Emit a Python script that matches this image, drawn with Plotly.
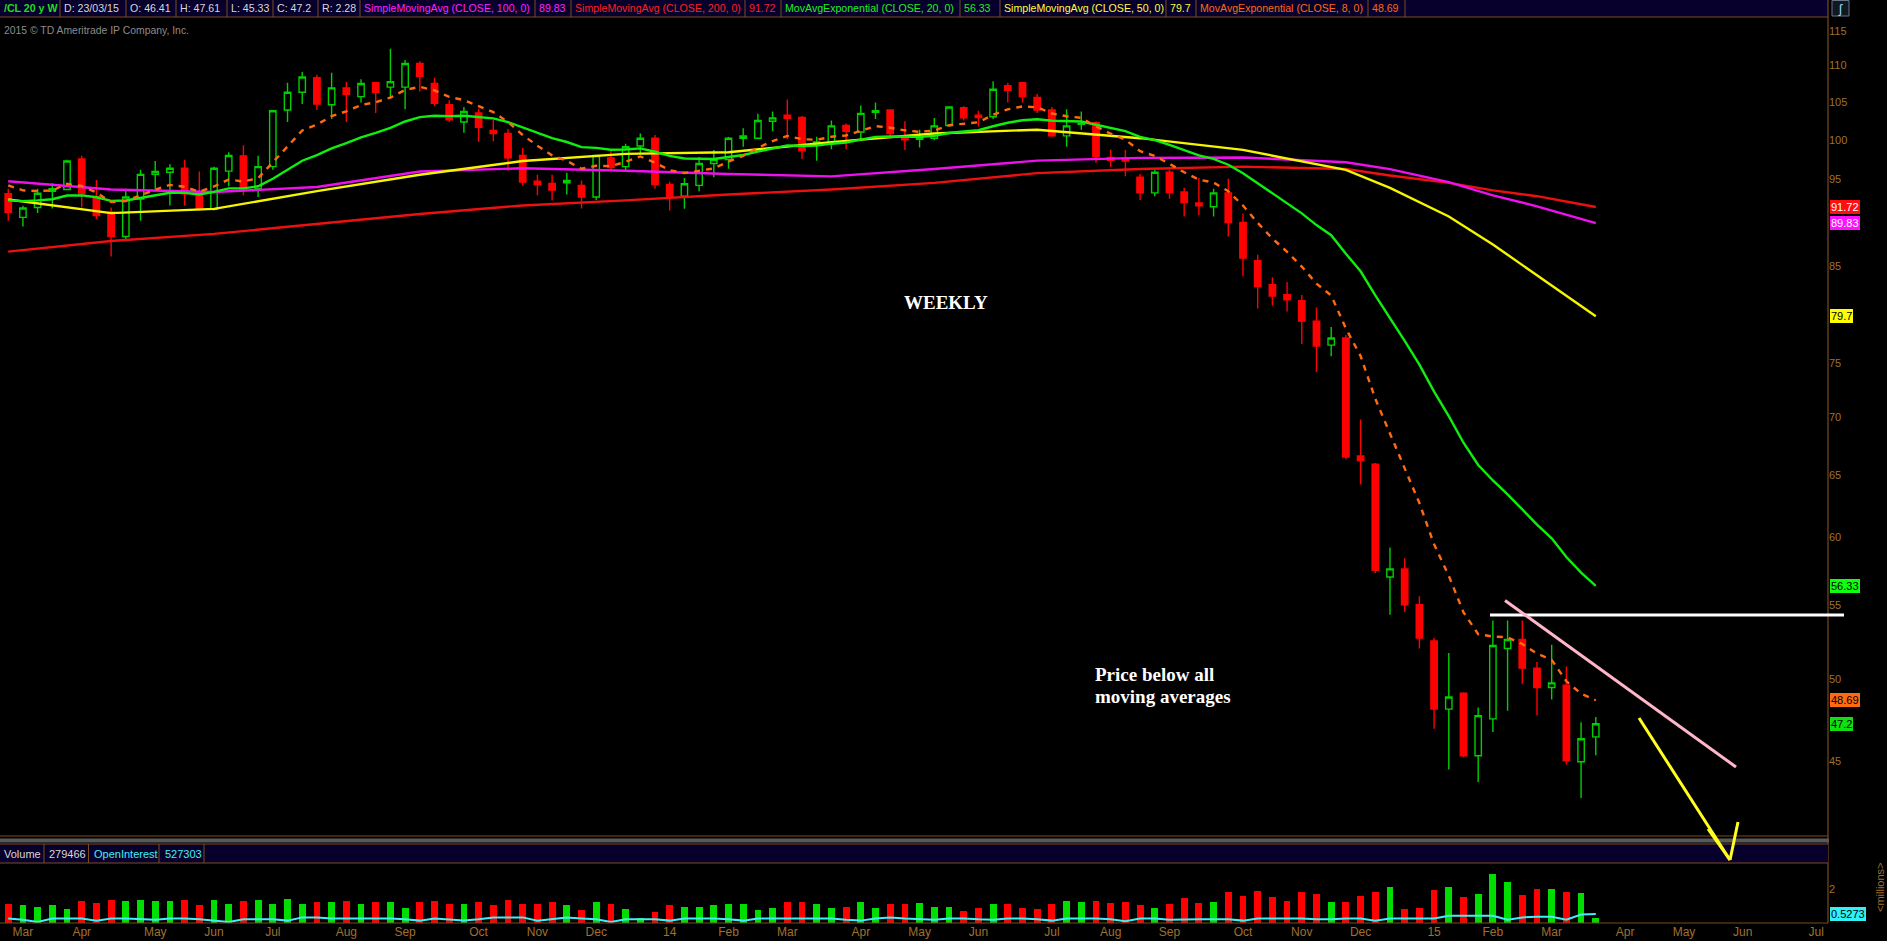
import math
import pandas as pd
import plotly.graph_objects as go

W, H = 1887, 941

# ---------------- data (weekly /CL candles) ----------------
dates = pd.date_range("2013-02-25", periods=109, freq="W-MON")

opens = [93.3, 90.5, 91.65, 93.6, 93.8, 97.55, 92.95, 91.1, 88.3, 92.65,
         95.65, 95.9, 96.4, 93.5, 91.45, 96.05, 97.95, 93.9, 96.6, 103.9,
         106.3, 108.3, 104.6, 106.9, 105.7, 107.6, 107.0, 107.0, 110.3, 107.5,
         104.6, 102.3, 103.5, 101.2, 100.8, 98.0, 94.8, 94.55, 94.6, 94.3,
         92.9, 97.7, 96.6, 99.2, 100.2, 94.4, 93.0, 94.3, 97.0, 97.5,
         100.2, 100.2, 102.4, 103.2, 102.9, 99.4, 99.5, 101.85, 101.0, 103.6,
         103.9, 100.3, 100.05, 100.2, 101.85, 104.2, 103.2, 103.0, 107.2, 107.6,
         105.6, 103.9, 100.5, 102.0, 102.2, 97.75, 97.7, 95.3, 93.4, 95.9,
         93.5, 92.2, 91.75, 93.4, 89.9, 85.6, 83.0, 81.95, 81.3, 79.2,
         76.8, 77.5, 66.6, 65.9, 57.0, 57.6, 55.0, 52.5, 48.1, 49.1,
         45.3, 47.5, 52.0, 52.6, 50.7, 49.45, 49.6, 44.95, 46.41]
highs = [93.9, 91.85, 93.9, 94.55, 97.45, 97.95, 94.95, 91.65, 93.9, 96.2,
         97.3, 96.9, 97.45, 96.0, 96.6, 98.4, 99.3, 97.95, 103.9, 107.6,
         109.1, 108.7, 109.0, 107.75, 108.1, 107.7, 112.4, 110.8, 110.6, 108.3,
         105.2, 104.3, 104.1, 102.6, 101.4, 98.95, 95.6, 95.6, 95.85, 94.9,
         98.1, 98.7, 99.5, 100.8, 100.6, 94.75, 95.2, 97.8, 98.7, 100.35,
         101.5, 103.4, 103.7, 105.3, 103.1, 100.4, 102.5, 102.1, 104.5, 104.9,
         104.0, 102.4, 101.3, 102.85, 104.4, 104.4, 103.8, 107.8, 107.6, 107.7,
         106.1, 104.3, 104.0, 103.7, 102.4, 98.75, 98.7, 95.7, 96.2, 96.2,
         94.0, 95.2, 93.9, 95.1, 90.95, 86.25, 83.8, 83.3, 81.9, 80.6,
         78.6, 77.8, 69.8, 66.0, 59.2, 58.4, 55.6, 52.7, 51.7, 49.15,
         48.2, 53.9, 53.9, 53.9, 51.1, 52.25, 50.8, 47.3, 47.61]
lows = [90.1, 89.45, 91.0, 91.55, 93.7, 91.65, 90.3, 86.05, 87.9, 90.1,
        93.9, 91.9, 91.85, 91.3, 91.3, 94.2, 93.1, 92.9, 96.2, 102.3,
        104.7, 103.9, 102.7, 102.3, 104.9, 103.5, 105.5, 104.0, 106.4, 104.4,
        102.3, 100.9, 99.7, 99.8, 96.1, 94.3, 93.1, 92.5, 93.2, 91.55,
        92.55, 96.2, 96.05, 98.3, 93.9, 91.3, 91.5, 93.6, 95.3, 96.35,
        99.1, 100.1, 101.1, 100.1, 97.55, 97.35, 98.8, 98.8, 99.8, 102.7,
        100.4, 98.7, 99.0, 99.95, 101.7, 102.5, 101.7, 102.7, 104.9, 104.9,
        103.5, 100.4, 99.1, 101.3, 97.1, 96.6, 95.4, 92.55, 93.0, 92.7,
        90.6, 90.75, 90.6, 88.3, 83.9, 80.5, 80.8, 80.2, 76.9, 74.2,
        75.7, 66.3, 64.2, 57.3, 54.3, 54.5, 52.0, 46.9, 44.5, 45.2,
        43.8, 46.7, 48.0, 49.7, 47.7, 48.7, 44.8, 42.9, 45.33]
closes = [91.1, 91.6, 93.35, 93.9, 97.3, 93.3, 90.7, 88.3, 92.9, 95.65,
          96.0, 96.4, 93.3, 91.45, 96.4, 98.0, 93.9, 96.6, 103.8, 106.3,
          108.4, 104.7, 106.9, 106.0, 107.5, 106.3, 107.75, 110.3, 108.5, 104.8,
          102.6, 103.7, 101.6, 100.8, 97.7, 94.7, 94.4, 93.75, 94.9, 92.9,
          98.0, 96.5, 99.1, 100.2, 94.4, 92.9, 94.5, 97.0, 97.5, 100.2,
          100.5, 102.5, 102.85, 102.8, 98.6, 99.7, 101.8, 101.1, 103.45, 103.8,
          100.8, 100.0, 100.35, 101.8, 104.3, 102.85, 102.9, 106.7, 106.55, 105.7,
          103.9, 100.5, 101.8, 102.1, 97.85, 97.4, 97.3, 93.4, 95.9, 93.45,
          92.25, 91.85, 93.4, 89.9, 85.9, 82.8, 81.8, 81.4, 79.2, 76.7,
          77.5, 66.5, 66.2, 57.5, 57.6, 55.0, 52.7, 48.1, 48.85, 45.3,
          47.7, 52.2, 52.6, 50.7, 49.45, 49.75, 45.0, 46.3, 47.2]

volume_m = [1.09, 1.03, 0.97, 1.03, 0.80, 1.27, 1.16, 1.37, 1.27, 1.37,
            1.31, 1.27, 1.37, 1.03, 1.37, 1.09, 1.31, 1.37, 1.09, 1.43,
            1.14, 1.22, 1.22, 1.31, 1.14, 1.26, 1.26, 0.91, 1.26, 1.31,
            1.09, 1.09, 1.26, 1.03, 1.37, 1.14, 1.09, 1.26, 1.03, 0.74,
            1.26, 1.09, 0.80, 0.29, 0.63, 1.03, 0.97, 0.97, 1.03, 1.14,
            1.09, 0.74, 0.86, 1.26, 1.26, 1.09, 0.91, 0.97, 1.26, 0.86,
            1.14, 1.14, 1.20, 0.97, 0.97, 0.69, 0.86, 1.14, 1.14, 0.86,
            0.80, 1.09, 1.31, 1.26, 1.31, 1.20, 1.26, 1.03, 0.91, 1.09,
            1.49, 1.20, 1.26, 1.83, 1.60, 1.89, 1.54, 1.31, 1.83, 1.71,
            1.26, 1.26, 1.60, 1.83, 2.11, 0.80, 0.91, 1.94, 2.11, 1.54,
            1.73, 2.86, 2.40, 1.66, 2.00, 2.00, 1.83, 1.77, 0.2795]

open_interest_m = [0.27, 0.19, 0.06, 0.27, 0.27, 0.27, 0.14, 0.27, 0.27, 0.22,
                   0.19, 0.27, 0.27, 0.22, 0.14, 0.06, 0.22, 0.22, 0.22, 0.14,
                   0.33, 0.33, 0.27, 0.27, 0.27, 0.27, 0.27, 0.22, 0.14, 0.27,
                   0.22, 0.14, 0.22, 0.33, 0.33, 0.33, 0.14, 0.22, 0.33, 0.27,
                   0.22, 0.06, 0.22, 0.22, 0.22, 0.14, 0.27, 0.27, 0.27, 0.22,
                   0.14, 0.27, 0.27, 0.27, 0.27, 0.27, 0.27, 0.19, 0.14, 0.27,
                   0.33, 0.27, 0.22, 0.19, 0.27, 0.27, 0.22, 0.19, 0.27, 0.27,
                   0.22, 0.14, 0.27, 0.27, 0.27, 0.22, 0.10, 0.27, 0.27, 0.19,
                   0.22, 0.22, 0.22, 0.22, 0.14, 0.27, 0.27, 0.27, 0.27, 0.22,
                   0.22, 0.27, 0.27, 0.14, 0.27, 0.27, 0.27, 0.27, 0.43, 0.43,
                   0.43, 0.43, 0.19, 0.33, 0.37, 0.37, 0.19, 0.50, 0.5273]

# moving averages at these candle numbers
ma_candles = [1, 8, 15, 22, 29, 36, 43, 50, 57, 64, 71, 78, 85, 92, 95, 99, 102, 105, 109]
sma50 = [92.6, 91.0, 91.5, 93.6, 95.6, 97.3, 98.2, 98.4, 99.7, 100.8,
         101.3, 100.2, 98.7, 96.2, 94.0, 90.6, 87.4, 84.0, 79.7]
sma100 = [94.8, 93.8, 93.5, 94.1, 96.0, 96.4, 96.1, 95.7, 95.4, 96.3,
          97.35, 97.7, 97.75, 97.15, 96.3, 94.7, 93.1, 91.8, 89.83]
sma200 = [86.6, 87.8, 88.6, 89.7, 90.9, 91.9, 92.5, 93.2, 93.8, 94.6,
          95.8, 96.3, 96.6, 96.3, 95.5, 94.6, 93.7, 93.0, 91.72]
ema8_start = 94.3
ema20_start = 92.5

price_ticks = [45, 50, 55, 60, 65, 70, 75, 85, 95, 100, 105, 110, 115]
month_ticks = ["2013-03-04", "2013-04-01", "2013-05-06", "2013-06-03", "2013-07-01",
               "2013-08-05", "2013-09-02", "2013-10-07", "2013-11-04", "2013-12-02",
               "2014-01-06", "2014-02-03", "2014-03-03", "2014-04-07", "2014-05-05",
               "2014-06-02", "2014-07-07", "2014-08-04", "2014-09-01", "2014-10-06",
               "2014-11-03", "2014-12-01", "2015-01-05", "2015-02-02", "2015-03-02",
               "2015-04-06", "2015-05-04", "2015-06-01", "2015-07-06"]
month_labels = ["Mar", "Apr", "May", "Jun", "Jul", "Aug", "Sep", "Oct", "Nov", "Dec",
                "14", "Feb", "Mar", "Apr", "May", "Jun", "Jul", "Aug", "Sep", "Oct",
                "Nov", "Dec", "15", "Feb", "Mar", "Apr", "May", "Jun", "Jul"]

header_cells = [
    ("<b>/CL 20 y W</b>", "#22dd22", 0),
    ("D: 23/03/15", "#d8d8d8", 60),
    ("O: 46.41", "#d8d8d8", 126),
    ("H: 47.61", "#d8d8d8", 176),
    ("L: 45.33", "#d8d8d8", 227),
    ("C: 47.2", "#d8d8d8", 273),
    ("R: 2.28", "#d8d8d8", 318),
    ("SimpleMovingAvg (CLOSE, 100, 0)", "#ff22ff", 360),
    ("89.83", "#ff22ff", 535),
    ("SimpleMovingAvg (CLOSE, 200, 0)", "#ff2020", 571),
    ("91.72", "#ff2020", 745),
    ("MovAvgExponential (CLOSE, 20, 0)", "#22ee22", 781),
    ("56.33", "#22ee22", 960),
    ("SimpleMovingAvg (CLOSE, 50, 0)", "#ffff33", 1000),
    ("79.7", "#ffff33", 1166),
    ("MovAvgExponential (CLOSE, 8, 0)", "#ff6a10", 1196),
    ("48.69", "#ff6a10", 1368),
]
header_seps = [60, 126, 176, 227, 273, 318, 360, 535, 571, 745, 781, 960, 1000, 1166, 1196, 1368, 1405]

# ---------------- derived ----------------
def ema(values, start, n):
    k = 2.0 / (n + 1)
    out = [start]
    for v in values[1:]:
        out.append(out[-1] + k * (v - out[-1]))
    return out

ema8 = ema(closes, ema8_start, 8)
ema20 = ema(closes, ema20_start, 20)
ma_dates = [dates[i - 1] for i in ma_candles]
up = [c >= o for o, c in zip(opens, closes)]
vol_colors = ["#00dd00" if u else "#ff0000" for u in up]

# ---------------- layout helpers (pixel -> paper) ----------------
def px(x):
    return x / W

def py(y):
    return 1 - y / H

AX_X = 1828
BROWN = "#7a4c1c"
BROWN_TXT = "#a0702e"
NAVY = "#07002c"
SANS = "Liberation Sans, Arial, sans-serif"

fig = go.Figure()

fig.add_trace(go.Candlestick(
    x=dates, open=opens, high=highs, low=lows, close=closes,
    increasing=dict(line=dict(color="#00d000", width=1.4), fillcolor="rgba(0,0,0,0)"),
    decreasing=dict(line=dict(color="#ff0000", width=1.4), fillcolor="#ff0000"),
    whiskerwidth=0, xaxis="x", yaxis="y", hoverinfo="skip", showlegend=False))

fig.add_trace(go.Scatter(x=ma_dates, y=sma200, mode="lines", line=dict(color="#ee1010", width=2.4),
                         xaxis="x", yaxis="y", hoverinfo="skip", showlegend=False))
fig.add_trace(go.Scatter(x=ma_dates, y=sma100, mode="lines", line=dict(color="#ee10ee", width=2.4),
                         xaxis="x", yaxis="y", hoverinfo="skip", showlegend=False))
fig.add_trace(go.Scatter(x=ma_dates, y=sma50, mode="lines", line=dict(color="#f5f500", width=2.4),
                         xaxis="x", yaxis="y", hoverinfo="skip", showlegend=False))
fig.add_trace(go.Scatter(x=dates, y=ema20, mode="lines", line=dict(color="#10ee10", width=2.4),
                         xaxis="x", yaxis="y", hoverinfo="skip", showlegend=False))
fig.add_trace(go.Scatter(x=dates, y=ema8, mode="lines",
                         line=dict(color="#ff6a10", width=2.4, dash="6px,6px"),
                         xaxis="x", yaxis="y", hoverinfo="skip", showlegend=False))

fig.add_trace(go.Bar(x=dates, y=volume_m, marker=dict(color=vol_colors, line=dict(width=0)),
                     width=2.8e8, xaxis="x2", yaxis="y2", hoverinfo="skip", showlegend=False))
fig.add_trace(go.Scatter(x=dates, y=open_interest_m, mode="lines",
                         line=dict(color="#40eef6", width=2),
                         xaxis="x2", yaxis="y2", hoverinfo="skip", showlegend=False))

x_range = ["2013-02-21 02:00", "2015-07-11 14:00"]
price_lo, price_hi = 40.86, 117.09

fig.update_layout(
    width=W, height=H, margin=dict(l=0, r=0, t=0, b=0),
    paper_bgcolor="#000000", plot_bgcolor="#000000",
    showlegend=False, bargap=0,
    boxgap=0.38,
    font=dict(family=SANS, color=BROWN_TXT, size=11),
    xaxis=dict(domain=[0, px(AX_X)], range=x_range, type="date", anchor="y",
               showticklabels=False, showgrid=False, zeroline=False, showline=False,
               rangeslider=dict(visible=False), fixedrange=True),
    yaxis=dict(domain=[py(836), py(17)], type="log",
               range=[math.log10(price_lo), math.log10(price_hi)], anchor="x",
               side="right", tickvals=price_ticks, ticktext=[str(t) for t in price_ticks],
               tickfont=dict(size=11, color=BROWN_TXT), ticks="", showgrid=False,
               zeroline=False, showline=False, fixedrange=True),
    xaxis2=dict(domain=[0, px(AX_X)], range=x_range, type="date", anchor="y2",
                tickvals=month_ticks, ticktext=month_labels, ticks="",
                tickfont=dict(size=12, color=BROWN_TXT), showgrid=False, zeroline=False,
                showline=False, fixedrange=True),
    yaxis2=dict(domain=[py(923), py(863)], range=[0, 3.53], anchor="x2", side="right",
                tickvals=[2], ticktext=["2"], ticks="", tickfont=dict(size=11, color=BROWN_TXT),
                showgrid=False, zeroline=False, showline=False, fixedrange=True),
)

shapes = []
def rect(x0, y0, x1, y1, fill, line_color=None, lw=0):
    shapes.append(dict(type="rect", xref="paper", yref="paper", x0=px(x0), x1=px(x1),
                       y0=py(y1), y1=py(y0), fillcolor=fill,
                       line=dict(color=line_color or fill, width=lw), layer="above"))

def seg(x0, y0, x1, y1, color, lw=1):
    shapes.append(dict(type="line", xref="paper", yref="paper", x0=px(x0), x1=px(x1),
                       y0=py(y0), y1=py(y1), line=dict(color=color, width=lw), layer="above"))

# header bar
rect(0, 0, AX_X, 17, NAVY)
seg(0, 17, AX_X, 17, BROWN, 1.2)
for sx in header_seps:
    seg(sx, 0, sx, 17, BROWN, 1)
# right axis line
seg(AX_X, 0, AX_X, 923, BROWN, 1.2)
# price panel bottom
seg(0, 836, AX_X, 836, BROWN, 1.2)
# splitter strip
rect(0, 838.5, AX_X + 1, 842.5, "#5a5a5a")
# volume header
rect(0, 844, AX_X, 863, NAVY)
seg(0, 844, AX_X, 844, BROWN, 1.2)
seg(0, 863, AX_X, 863, BROWN, 1.2)
for sx in [44, 88.5, 159, 204]:
    seg(sx, 844, sx, 863, BROWN, 1)
seg(0, 923, AX_X, 923, BROWN, 1.2)
# icon box
rect(1832, 0.5, 1849, 16, "#101822", "#667788", 1)

# hand-drawn annotation lines
seg(1490, 615, 1844, 615, "#ffffff", 3)
seg(1505, 600.5, 1736, 767, "#ffb6c8", 3)
seg(1639, 718, 1730, 860, "#ffff20", 3)
seg(1730, 860, 1738, 822, "#ffff20", 3)
seg(1730, 860, 1708, 829, "#ffff20", 3)

fig.update_layout(shapes=shapes)

ann = []
def text(x, y, s, color, size=11, xanchor="left", family=SANS, **kw):
    ann.append(dict(xref="paper", yref="paper", x=px(x), y=py(y), text=s, showarrow=False,
                    xanchor=xanchor, yanchor="middle", font=dict(color=color, size=size, family=family), **kw))

for s, c, x0 in header_cells:
    text(x0 + 2, 8.5, s, c, 10.6)
text(2, 31, "2015 © TD Ameritrade IP Company, Inc.", "#8c8c8c", 10.4)
text(1840.5, 8, "ʃ", "#9fd4ff", 13, xanchor="center")

# volume header
text(2, 854, "Volume", "#d8d8d8", 11)
text(47, 854, "279466", "#d8d8d8", 11)
text(92, 854, "OpenInterest", "#40eef6", 11)
text(163, 854, "527303", "#40eef6", 11)
text(1880, 887, "&lt;millions&gt;", BROWN_TXT, 11, xanchor="center", textangle=-90)

# chart notes
serif = "Liberation Serif, Times New Roman, serif"
text(946, 302, "<b>WEEKLY</b>", "#ffffff", 19, xanchor="center", family=serif)
text(1093, 674, "<b>Price below all</b>", "#ffffff", 19, family=serif)
text(1093, 696, "<b>moving averages</b>", "#ffffff", 19, family=serif)

# value badges on the right axis
badges = [(sma200[-1], "91.72", "#ff1010", "#ffffff"),
          (sma100[-1], "89.83", "#ff10ff", "#ffffff"),
          (sma50[-1], "79.7", "#ffff00", "#000000"),
          (56.33, "56.33", "#10ff10", "#000000"),
          (48.69, "48.69", "#ff6a10", "#000000"),
          (closes[-1], "47.2", "#10e010", "#000000")]
for v, s, bg, fg in badges:
    ann.append(dict(xref="paper", yref="y", x=px(1830), y=math.log10(v), text=s, showarrow=False,
                    xanchor="left", yanchor="middle", bgcolor=bg, bordercolor=bg, borderpad=0,
                    font=dict(color=fg, size=11, family=SANS)))
ann.append(dict(xref="paper", yref="y2", x=px(1830), y=open_interest_m[-1], text="0.5273",
                showarrow=False, xanchor="left", yanchor="middle", bgcolor="#30f0f8",
                bordercolor="#30f0f8", borderpad=0,
                font=dict(color="#000000", size=11, family=SANS)))

fig.update_layout(annotations=ann)

fig.write_html(
    "out.html",
    config={"displayModeBar": False, "staticPlot": True},
    post_script="document.body.style.margin='0';document.body.style.padding='0';"
                "document.body.style.overflow='hidden';",
)
